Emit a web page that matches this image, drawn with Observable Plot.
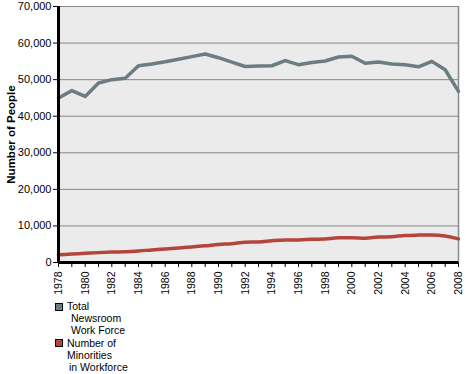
<!DOCTYPE html>
<html>
<head>
<meta charset="utf-8">
<script src="https://cdn.jsdelivr.net/npm/d3@7"></script>
<script src="https://cdn.jsdelivr.net/npm/@observablehq/plot@0.6"></script>
<style>
  body { margin: 0; background: #fff; font-family: "Liberation Sans", Arial, sans-serif; }
  #wrap { position: relative; width: 466px; height: 374px; }
  .lg { position: absolute; font-size: 10.5px; line-height: 12px; color: #000; white-space: nowrap; }
  .sw { position: absolute; width: 6px; height: 6px; border: 1px solid #000; }
</style>
</head>
<body>
<div id="wrap"></div>
<script>
const years = d3.range(1978, 2009);
const totalWorkforce = [45000, 47000, 45400, 49100, 50000, 50400, 53800, 54300, 54900, 55600, 56300, 57000, 56000, 54800, 53600, 53700, 53800, 55200, 54100, 54700, 55100, 56200, 56400, 54500, 54800, 54300, 54100, 53500, 55000, 52700, 46800];
const minorities = [2100, 2300, 2500, 2700, 2850, 2950, 3150, 3450, 3700, 3950, 4250, 4550, 4950, 5150, 5550, 5600, 5950, 6150, 6150, 6350, 6450, 6750, 6750, 6650, 6950, 7050, 7400, 7500, 7550, 7250, 6450];
const yTicks = [0, 10000, 20000, 30000, 40000, 50000, 60000, 70000];
const xLabelYears = years.filter(y => y % 2 === 0);
const seriesNames = ["Total Newsroom Work Force", "Number of Minorities in Workforce"];
const seriesColors = ["#6b7d83", "#b5453a"];

const totalData = years.map((y, i) => ({year: y, value: totalWorkforce[i]}));
const minData = years.map((y, i) => ({year: y, value: minorities[i]}));

const chart = Plot.plot({
  width: 466,
  height: 296,
  marginLeft: 58,
  marginRight: 8,
  marginTop: 6,
  marginBottom: 34,
  style: {fontFamily: "Liberation Sans, Arial, sans-serif", fontSize: "11px", background: "#fff"},
  x: {domain: [1978, 2008], type: "linear"},
  y: {domain: [0, 70000]},
  marks: [
    Plot.frame({fill: "#ebebeb", stroke: null}),
    Plot.ruleY(yTicks, {stroke: "#888", strokeWidth: 1, strokeOpacity: 1}),
    Plot.ruleX([2008], {stroke: "#888", strokeWidth: 1.5}),
    Plot.line(totalData, {x: "year", y: "value", stroke: seriesColors[0], strokeWidth: 3.5}),
    Plot.line(minData, {x: "year", y: "value", stroke: seriesColors[1], strokeWidth: 3.5, curve: "monotone-x"}),
    Plot.axisY({ticks: yTicks, tickFormat: d3.format(","), tickSize: 5, tickPadding: 2, fontSize: 11,
      label: "Number of People", labelAnchor: "center", labelArrow: false, labelOffset: 52}),
    Plot.axisX({ticks: years, tickSize: 5, tickFormat: () => "", label: null}),
    Plot.axisX({ticks: xLabelYears, tickSize: 0, tickPadding: 9, tickRotate: -90, tickFormat: d => String(d), fontSize: 10.5, label: null}),
    Plot.ruleY([0], {stroke: "#000", strokeWidth: 3}),
    Plot.ruleX([1978], {stroke: "#000", strokeWidth: 3})
  ]
});
d3.select(chart).selectAll("[aria-label='y-axis label'] text").attr("font-weight", "bold").attr("font-size", 11.5);
const wrap = document.getElementById("wrap");
wrap.appendChild(chart);

const legendItems = [
  {top: 303, lines: [["Total", 67, 300], ["Newsroom", 71, 312], ["Work Force", 71, 324]]},
  {top: 339, lines: [["Number of", 67, 337], ["Minorities", 67, 349], ["in Workforce", 69, 361]]}
];
legendItems.forEach((item, i) => {
  const sw = document.createElement("div");
  sw.className = "sw";
  sw.style.left = "55px";
  sw.style.top = item.top + "px";
  sw.style.background = seriesColors[i];
  sw.title = seriesNames[i];
  wrap.appendChild(sw);
  item.lines.forEach(([t, x, y]) => {
    const d = document.createElement("div");
    d.className = "lg";
    d.style.left = x + "px";
    d.style.top = y + "px";
    d.textContent = t;
    wrap.appendChild(d);
  });
});
</script>
</body>
</html>
